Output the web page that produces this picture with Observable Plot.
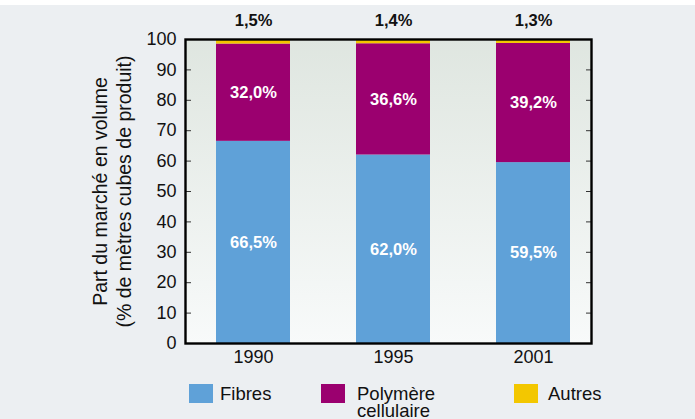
<!DOCTYPE html>
<html>
<head>
<meta charset="utf-8">
<script src="https://cdn.jsdelivr.net/npm/d3@7"></script>
<script src="https://cdn.jsdelivr.net/npm/@observablehq/plot@0.6"></script>
<style>
  html, body { margin: 0; padding: 0; }
  body { width: 695px; height: 419px; overflow: hidden; font-family: "Liberation Sans", Arial, Helvetica, sans-serif; }
  #wrap { position: relative; width: 695px; height: 414px; background: #eceff2; border-top: 5px solid #ffffff; }
  #chart { position: absolute; left: 0; top: 0; }
  .leg { position: absolute; top: 379px; display: flex; align-items: flex-start; }
  .sw { width: 24px; height: 19px; }
  .lt { font-size: 18.5px; line-height: 17px; color: #111; margin-left: 8px; padding-top: 1px; }
</style>
</head>
<body>
<div id="wrap">
  <div id="chart"></div>
</div>
<script>
const years = ["1990", "1995", "2001"];
const fibres = [66.5, 62.0, 59.5];
const polymere = [32.0, 36.6, 39.2];
const autres = [1.5, 1.4, 1.3];
const seriesNames = ["Fibres", "Polymère cellulaire", "Autres"];
const legendLabels = ["Fibres", "Polymère\ncellulaire", "Autres"];
const colors = ["#5fa1d8", "#9b006f", "#f3c700"];
const yTicks = [0, 10, 20, 30, 40, 50, 60, 70, 80, 90, 100];

const fmt = v => v.toFixed(1).replace(".", ",") + "%";

const rows = [];
years.forEach((y, i) => {
  rows.push({year: y, series: seriesNames[0], value: fibres[i]});
  rows.push({year: y, series: seriesNames[1], value: polymere[i]});
  rows.push({year: y, series: seriesNames[2], value: autres[i]});
});
const insideLabels = [];
years.forEach((y, i) => {
  insideLabels.push({year: y, y: fibres[i] / 2, text: fmt(fibres[i])});
  insideLabels.push({year: y, y: fibres[i] + polymere[i] / 2, text: fmt(polymere[i])});
});
const topLabels = years.map((y, i) => ({year: y, y: fibres[i] + polymere[i] + autres[i], text: fmt(autres[i])}));

const plot = Plot.plot({
  width: 695,
  height: 370,
  marginTop: 34,
  marginBottom: 32,
  marginLeft: 185,
  marginRight: 104,
  style: {fontFamily: '"Liberation Sans", Arial, Helvetica, sans-serif', background: "transparent", overflow: "visible"},
  x: {domain: years, paddingInner: 0.473, paddingOuter: 0.185, align: 0.6, label: null},
  y: {domain: [0, 100], label: null},
  color: {domain: seriesNames, range: colors},
  marks: [
    Plot.frame({fill: "url(#bggrad)", stroke: "none"}),
    Plot.barY(rows, Plot.stackY({x: "year", y: "value", fill: "series", order: seriesNames})),
    Plot.text(insideLabels, {x: "year", y: "y", text: "text", fill: "white", fontWeight: "bold", fontSize: 16.5}),
    Plot.text(topLabels, {x: "year", y: "y", text: "text", fill: "#111", fontWeight: "bold", fontSize: 16.5, dy: -19}),
    Plot.axisY(yTicks, {anchor: "left", tickSize: 0, tickPadding: 9, fontSize: 18, fill: "#111", label: null}),
    Plot.axisY(yTicks, {anchor: "left", tickSize: -6, stroke: "#333", tickFormat: () => "", label: null}),
    Plot.axisY(yTicks, {anchor: "right", tickSize: -6, stroke: "#333", tickFormat: () => "", label: null}),
    Plot.axisX({anchor: "bottom", tickSize: 0, tickPadding: 7, fontSize: 18, fill: "#111", label: null}),
    Plot.text(["Part du marché en volume\n(% de mètres cubes de produit)"], {frameAnchor: "left", textAnchor: "middle", lineAnchor: "middle", rotate: -90, dx: -74.5, fontSize: 19.5, lineHeight: 1.28, fill: "#111"}),
    Plot.frame({stroke: "#000", strokeWidth: 2.4})
  ]
});

const svg = d3.select(plot);
const defs = svg.insert("defs", ":first-child");
const g = defs.append("linearGradient").attr("id", "bggrad").attr("x1", 0).attr("y1", 0).attr("x2", 0).attr("y2", 1);
g.append("stop").attr("offset", "0%").attr("stop-color", "#dfe6e0");
g.append("stop").attr("offset", "100%").attr("stop-color", "#f8fafa");

document.getElementById("chart").appendChild(plot);

const legendLeft = [189, 321, 514];
const wrap = document.getElementById("wrap");
seriesNames.forEach((s, i) => {
  const item = document.createElement("div");
  item.className = "leg";
  item.style.left = legendLeft[i] + "px";
  const sw = document.createElement("div");
  sw.className = "sw";
  sw.style.background = colors[i];
  const lt = document.createElement("div");
  lt.className = "lt";
  lt.style.marginLeft = (i === 2 ? 10 : (i === 1 ? 12 : 7)) + "px";
  lt.innerHTML = legendLabels[i].replace("\n", "<br>");
  item.appendChild(sw);
  item.appendChild(lt);
  wrap.appendChild(item);
});
</script>
</body>
</html>
